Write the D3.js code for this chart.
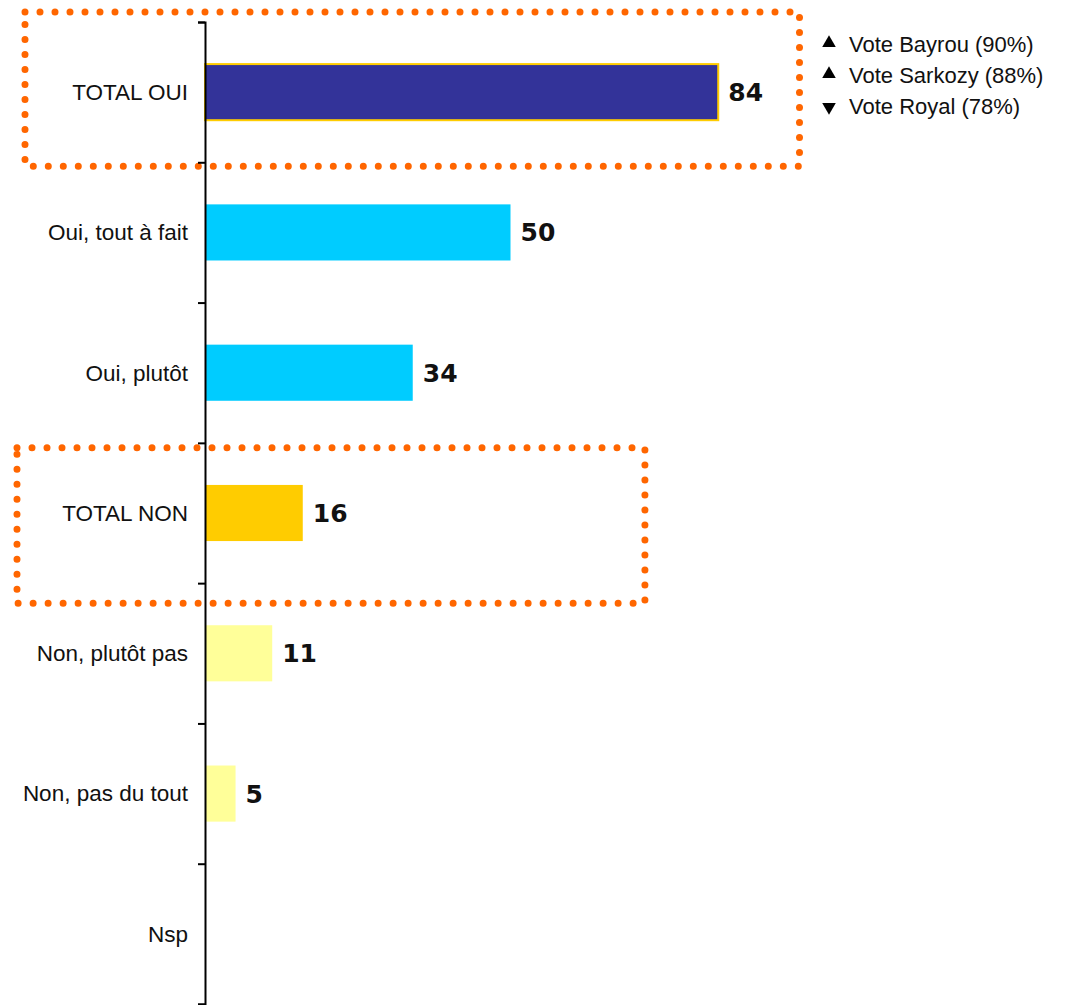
<!DOCTYPE html>
<meta charset='utf-8'>
<style>
    body { margin: 0; background: #fff; }
    svg { display: block; }
    .cat text { font-family: 'Liberation Sans', Arial, sans-serif; font-size: 22.5px; fill: #111; }
    .val { font-family: 'DejaVu Sans', Verdana, sans-serif; font-size: 25px; font-weight: bold; fill: #111; }
    .legend text { font-family: 'Liberation Sans', Arial, sans-serif; font-size: 22px; fill: #111; }
</style>
<body>
<div id='chart'></div>
<script src='https://d3js.org/d3.v7.min.js'></script>
<script>
    // data
    const categories = [ 'TOTAL OUI', 'Oui, tout à fait', 'Oui, plutôt', 'TOTAL NON',
                         'Non, plutôt pas', 'Non, pas du tout', 'Nsp' ];
    const values = [ 84, 50, 34, 16, 11, 5, null ];
    const barColors = [ '#333399', '#00CCFF', '#00CCFF', '#FFCC00', '#FFFF99', '#FFFF99', '#FFFF99' ];
    const legendLabels = [ 'Vote Bayrou (90%)', 'Vote Sarkozy (88%)', 'Vote Royal (78%)' ];
    const legendArrows = [ 'up', 'up', 'down' ];
    // boxed groups: category, box right edge (in value units)
    const boxes = [ { cat: 'TOTAL OUI', right: 97.3 }, { cat: 'TOTAL NON', right: 72 } ];

    const width = 1066, height = 1005;
    const axisX = 205, plotTop = 22, plotBottom = 1004;

    const svg = d3.select( '#chart' ).append( 'svg' )
        .attr( 'width', width )
        .attr( 'height', height );

    const x = d3.scaleLinear()
        .domain( [0, 100] )
        .range( [axisX, axisX + 611] );

    const y = d3.scaleBand()
        .domain( categories )
        .range( [plotTop, plotBottom] )
        .paddingInner( 0.6 )
        .paddingOuter( 0.3 );

    // boundaries between categories, for the ticks
    const yIdx = d3.scaleLinear()
        .domain( [0, categories.length] )
        .range( [plotTop, plotBottom] );

    // dotted orange boxes
    boxes.forEach( ( b, i ) => {
        let i0 = categories.indexOf( b.cat );
        let y0 = yIdx( i0 ) + ( i === 0 ? -10 : 5 ),
            y1 = yIdx( i0 + 1 ) + ( i === 0 ? 4 : 20 ),
            x0 = i === 0 ? 25 : 17,
            x1 = x( b.right );
        svg.append( 'path' )
            .attr( 'd', `M${x0},${y0}H${x1}V${y1}H${x0}Z` )
            .attr( 'fill', 'none' )
            .attr( 'stroke', '#FF6600' )
            .attr( 'stroke-width', 7 )
            .attr( 'stroke-linecap', 'round' )
            .attr( 'stroke-dasharray', '0 15' );
    } );

    const rows = categories.map( ( c, i ) => ( { c, v: values[i], color: barColors[i] } ) )
        .filter( d => d.v != null );

    // bars
    svg.append( 'g' ).selectAll( 'rect' )
        .data( rows )
        .join( 'rect' )
        .attr( 'x', x( 0 ) )
        .attr( 'y', d => y( d.c ) )
        .attr( 'width', d => x( d.v ) - x( 0 ) )
        .attr( 'height', y.bandwidth() )
        .attr( 'fill', d => d.color )
        .attr( 'stroke', d => d.c === 'TOTAL OUI' ? '#FFCC00' : 'none' )
        .attr( 'stroke-width', 2 );

    // value labels
    svg.append( 'g' ).selectAll( 'text' )
        .data( rows )
        .join( 'text' )
        .attr( 'class', 'val' )
        .attr( 'x', d => x( d.v ) + 10 )
        .attr( 'y', d => y( d.c ) + y.bandwidth() / 2 )
        .attr( 'dy', '0.36em' )
        .text( d => d.v );

    // category labels
    const catAxis = svg.append( 'g' )
        .attr( 'class', 'cat' )
        .attr( 'transform', `translate( ${axisX}, 0 )` )
        .call( d3.axisLeft( y ).tickSize( 0 ).tickPadding( 17 ) );
    catAxis.select( '.domain' ).remove();
    catAxis.selectAll( 'text' ).attr( 'dy', '0.35em' );

    // axis line and ticks between categories
    const tickAxis = svg.append( 'g' )
        .attr( 'transform', `translate( ${axisX}, 0 )` )
        .call( d3.axisLeft( yIdx ).ticks( categories.length ).tickFormat( '' ).tickSize( 7 ).tickSizeOuter( 7 ) );
    tickAxis.selectAll( 'line, path' ).attr( 'stroke', '#000' ).attr( 'stroke-width', 2 );

    // legend
    const legend = svg.append( 'g' ).attr( 'class', 'legend' )
        .selectAll( 'g' )
        .data( legendLabels )
        .join( 'g' )
        .attr( 'transform', ( d, i ) => `translate( 829, ${44 + i * 31} )` );
    legend.append( 'path' )
        .attr( 'd', d3.symbol( d3.symbolTriangle, 80 ) )
        .attr( 'transform', ( d, i ) => legendArrows[i] === 'down' ? 'translate(0,1) rotate(180)' : 'translate(0,-1)' )
        .attr( 'fill', '#000' );
    legend.append( 'text' )
        .attr( 'x', 20 )
        .attr( 'dy', '0.36em' )
        .text( d => d );
</script>
</body>
